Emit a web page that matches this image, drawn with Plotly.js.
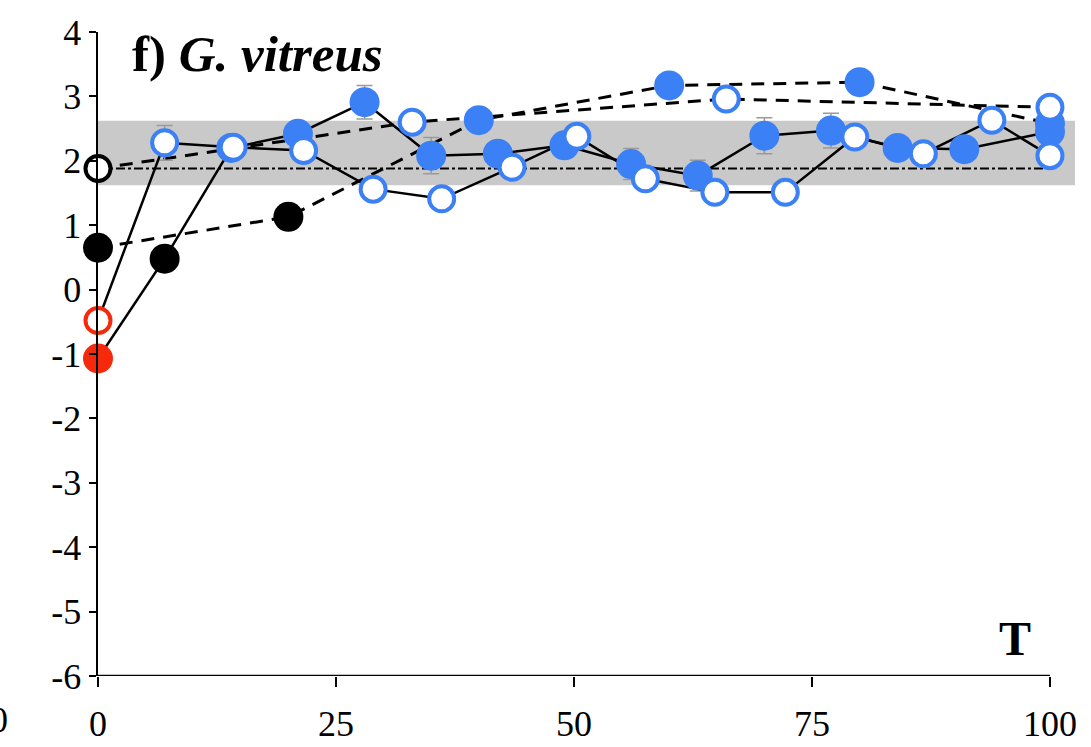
<!DOCTYPE html>
<html>
<head>
<meta charset="utf-8">
<script src="https://cdn.plot.ly/plotly-3.0.1.min.js"></script>
<style>
  html, body { margin: 0; padding: 0; background: #fff; }
  #chart { width: 1091px; height: 747px; }
</style>
</head>
<body>
<div id="chart"></div>
<script>
// Time points (T) and values for the four sampling series
const filledSolidT = [0, 7, 14, 21, 28, 35, 42, 49, 56, 63, 70, 77, 84, 91, 100];
const filledSolidV = [-1.07, 0.48, 2.2, 2.42, 2.91, 2.08, 2.11, 2.24, 1.95, 1.77, 2.39, 2.47, 2.20, 2.18, 2.45];
const filledSolidErr = [0, 0, 0, 0, 0.26, 0.28, 0, 0, 0.24, 0.24, 0.28, 0.27, 0, 0, 0];
const filledSolidColor = ['red', 'black', 'blue', 'blue', 'blue', 'blue', 'blue', 'blue', 'blue', 'blue', 'blue', 'blue', 'blue', 'blue', 'blue'];

const openSolidT = [0, 7, 14.2, 21.6, 28.9, 36.1, 43.5, 50.3, 57.5, 64.8, 72.2, 79.5, 86.7, 93.9, 100];
const openSolidV = [-0.48, 2.28, 2.21, 2.16, 1.56, 1.41, 1.90, 2.38, 1.72, 1.51, 1.51, 2.37, 2.11, 2.63, 2.08];
const openSolidErr = [0, 0.27, 0, 0, 0, 0, 0, 0, 0, 0, 0, 0, 0, 0, 0];
const openSolidColor = ['red', 'blue', 'blue', 'blue', 'blue', 'blue', 'blue', 'blue', 'blue', 'blue', 'blue', 'blue', 'blue', 'blue', 'blue'];

const filledDashedT = [0, 20, 40, 60, 80, 100];
const filledDashedV = [0.65, 1.13, 2.63, 3.17, 3.22, 2.58];
const filledDashedColor = ['black', 'black', 'blue', 'blue', 'blue', 'blue'];

const openDashedT = [0, 33, 66, 100];
const openDashedV = [1.88, 2.60, 2.96, 2.83];
const openDashedColor = ['black', 'blue', 'blue', 'blue'];

// Reference level and its band
const refLevel = 1.88;
const bandLow = 1.62;
const bandHigh = 2.62;

const xTicks = [0, 25, 50, 75, 100];
const yTicks = [-6, -5, -4, -3, -2, -1, 0, 1, 2, 3, 4];

const palette = { red: '#f5290b', black: '#000000', blue: '#3b80f4' };
const mapColors = arr => arr.map(c => palette[c]);

const serif = 'Liberation Serif, Times New Roman, serif';
const xMax = 102.63;

function lineTrace(x, y, dash, err) {
  const t = {
    x: x, y: y, type: 'scatter', mode: 'lines', hoverinfo: 'skip',
    line: { color: '#000', width: dash ? 3 : 2.5, dash: dash ? '13px,9px' : 'solid' },
    cliponaxis: false
  };
  if (err) {
    t.error_y = { type: 'data', array: err, visible: true, color: '#9a9a9a', thickness: 1.5, width: 8 };
  }
  return t;
}

function filledMarkers(x, y, colors) {
  return {
    x: x, y: y, type: 'scatter', mode: 'markers', hoverinfo: 'skip', cliponaxis: false,
    marker: { size: 30, color: mapColors(colors), line: { width: 0 } }
  };
}

function openMarkers(x, y, colors) {
  return {
    x: x, y: y, type: 'scatter', mode: 'markers', hoverinfo: 'skip', cliponaxis: false,
    marker: { size: 25, color: '#ffffff', line: { width: 4, color: mapColors(colors) } }
  };
}

const traces = [
  lineTrace(filledDashedT, filledDashedV, true),
  lineTrace(openDashedT, openDashedV, true),
  lineTrace(filledSolidT, filledSolidV, false, filledSolidErr),
  lineTrace(openSolidT, openSolidV, false, openSolidErr),
  filledMarkers(filledDashedT, filledDashedV, filledDashedColor),
  filledMarkers(filledSolidT, filledSolidV, filledSolidColor),
  openMarkers(openDashedT, openDashedV, openDashedColor),
  openMarkers(openSolidT, openSolidV, openSolidColor)
];

const tickFont = { family: serif, size: 36, color: '#000' };

const layout = {
  width: 1091, height: 747,
  margin: { l: 98, r: 16, t: 32, b: 71 },
  paper_bgcolor: '#ffffff', plot_bgcolor: '#ffffff',
  showlegend: false,
  font: { family: serif, color: '#000', size: 36 },
  xaxis: {
    range: [0, xMax], showgrid: false, zeroline: false, showline: false,
    tickmode: 'array', tickvals: xTicks, ticktext: xTicks.map(String),
    ticks: 'outside', ticklen: 10, tickwidth: 2, tickcolor: '#000',
    ticklabelstandoff: 6,
    tickfont: tickFont
  },
  yaxis: {
    range: [-6, 4], showgrid: false, zeroline: false,
    showline: true, linewidth: 2.5, linecolor: '#000',
    tickmode: 'array', tickvals: yTicks, ticktext: yTicks.map(String),
    ticks: 'outside', ticklen: 7, tickwidth: 2, tickcolor: '#000',
    tickfont: tickFont
  },
  shapes: [
    { type: 'rect', xref: 'x', yref: 'y', x0: 0, x1: xMax, y0: bandLow, y1: bandHigh,
      fillcolor: '#c9c9c9', line: { width: 0 }, layer: 'below' },
    { type: 'line', xref: 'x', yref: 'y', x0: 0, x1: 100, y0: refLevel, y1: refLevel,
      line: { color: '#000', width: 2, dash: 'dashdot' }, layer: 'below' },
    { type: 'line', xref: 'x', yref: 'y', x0: 0, x1: 100, y0: -6, y1: -6,
      line: { color: '#000', width: 2.5 } }
  ],
  annotations: [
    { xref: 'x', yref: 'y', x: 3.4, y: 3.66, xanchor: 'left', yanchor: 'middle', showarrow: false,
      text: '<b>f) <i>G. vitreus</i></b>', font: { family: serif, size: 51, color: '#000' } },
    { xref: 'x', yref: 'y', x: 96.3, y: -5.42, xanchor: 'center', yanchor: 'middle', showarrow: false,
      text: '<b>T</b>', font: { family: serif, size: 48, color: '#000' } },
    // tail of the neighbouring panel's last tick label
    { xref: 'paper', yref: 'paper', x: -0.0905, y: 0, yshift: -44, xanchor: 'right', yanchor: 'middle', showarrow: false,
      text: '100', font: tickFont }
  ]
};

Plotly.newPlot('chart', traces, layout, { staticPlot: true, displayModeBar: false });
</script>
</body>
</html>
